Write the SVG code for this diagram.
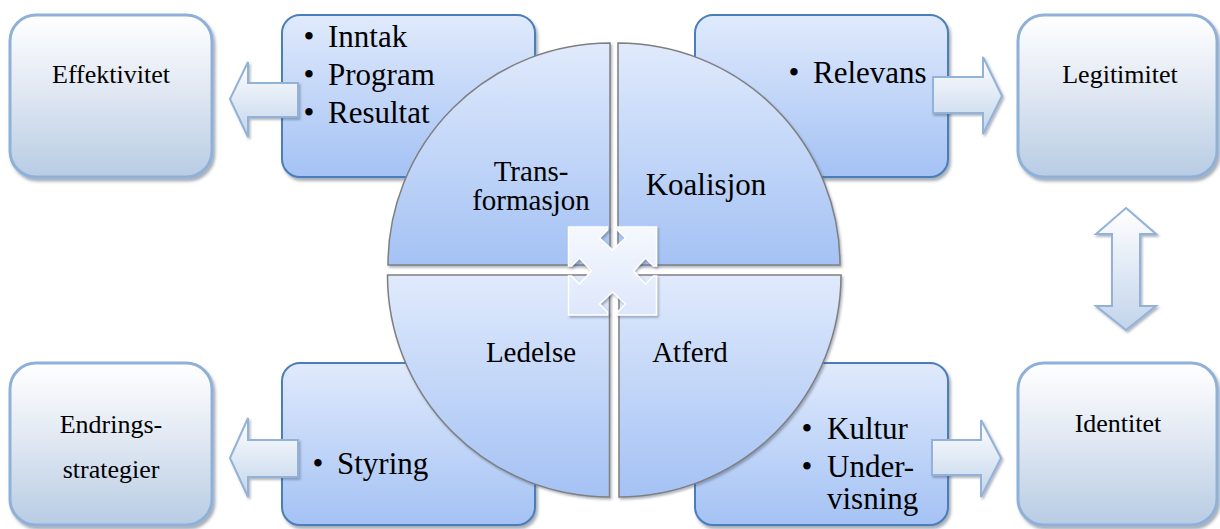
<svg xmlns="http://www.w3.org/2000/svg" width="1220" height="529" viewBox="0 0 1220 529">
<defs>
<linearGradient id="gOuter" x1="0" y1="0" x2="0" y2="1">
<stop offset="0" stop-color="#ffffff"/><stop offset="0.45" stop-color="#e2e9f3"/><stop offset="1" stop-color="#b8cce4"/>
</linearGradient>
<linearGradient id="gInner" x1="0" y1="0" x2="0" y2="1">
<stop offset="0" stop-color="#e0eafc"/><stop offset="1" stop-color="#a4c2f4"/>
</linearGradient>
<linearGradient id="gArrow" x1="0" y1="0" x2="0" y2="1">
<stop offset="0" stop-color="#ffffff"/><stop offset="1" stop-color="#c2d4eb"/>
</linearGradient>
<linearGradient id="gCenter" x1="0" y1="0" x2="0" y2="1">
<stop offset="0" stop-color="#f5f8fe"/><stop offset="1" stop-color="#dde7fb"/>
</linearGradient>
<filter id="sh" x="-10%" y="-10%" width="130%" height="130%">
<feDropShadow dx="2" dy="3" stdDeviation="1.5" flood-color="#3d4c63" flood-opacity="0.45"/>
</filter>
<filter id="shs" x="-10%" y="-10%" width="130%" height="130%">
<feDropShadow dx="1.5" dy="2" stdDeviation="1.2" flood-color="#3d4c63" flood-opacity="0.4"/>
</filter>
</defs>
<style>
.outer{fill:url(#gOuter);stroke:#8fb1d9;stroke-width:3;filter:url(#sh)}
.inner{fill:url(#gInner);stroke:#4a7ebb;stroke-width:2;filter:url(#sh)}
.quad{fill:url(#gInner);stroke:#7f7f7f;stroke-width:1.5;filter:url(#shs)}
.arrow{fill:url(#gArrow);stroke:#92b2d8;stroke-width:2;filter:url(#shs)}
.center{fill:url(#gCenter);stroke:#ffffff;stroke-width:1.5;filter:url(#shs)}
text{font-family:"Liberation Serif","Times New Roman",Times,Tinos,"Nimbus Roman","Nimbus Roman No9 L","Noto Serif","DejaVu Serif",FreeSerif,serif}
.t26{font-size:26px}
.t29{font-size:29px}
.t31{font-size:31px}
.mid{text-anchor:middle}
</style>
<g id="effektivitet">
<rect class="outer" x="10" y="15" width="202" height="162" rx="26"/>
<text class="t26 mid" x="111" y="83">Effektivitet</text>
</g>
<g id="legitimitet">
<rect class="outer" x="1018" y="15" width="199" height="162" rx="26"/>
<text class="t26 mid" x="1120" y="83">Legitimitet</text>
</g>
<g id="endringsstrategier">
<rect class="outer" x="10" y="363" width="202" height="162" rx="26"/>
<text class="t26 mid" x="111" y="433">Endrings-</text>
<text class="t26 mid" x="111" y="478">strategier</text>
</g>
<g id="identitet">
<rect class="outer" x="1018" y="363" width="199" height="162" rx="26"/>
<text class="t26 mid" x="1118" y="432">Identitet</text>
</g>

<g id="box-tl">
<rect class="inner" x="282" y="15" width="253" height="162" rx="18"/>
<text class="t31 mid" x="309" y="47">•</text><text class="t31" x="328" y="47">Inntak</text>
<text class="t31 mid" x="309" y="85">•</text><text class="t31" x="328" y="85">Program</text>
<text class="t31 mid" x="309" y="123">•</text><text class="t31" x="328" y="123">Resultat</text>
</g>
<g id="box-tr">
<rect class="inner" x="695" y="15" width="253" height="162" rx="18"/>
<text class="t31 mid" x="794" y="83">•</text><text class="t31" x="813" y="83">Relevans</text>
</g>
<g id="box-bl">
<rect class="inner" x="282" y="363" width="253" height="162" rx="18"/>
<text class="t31 mid" x="318" y="474">•</text><text class="t31" x="337" y="474">Styring</text>
</g>
<g id="box-br">
<rect class="inner" x="695" y="363" width="253" height="162" rx="18"/>
<text class="t31 mid" x="807" y="439">•</text><text class="t31" x="827" y="439">Kultur</text>
<text class="t31 mid" x="807" y="477">•</text><text class="t31" x="827" y="477">Under-</text>
<text class="t31" x="827" y="509">visning</text>
</g>

<g id="connectors">
<path class="arrow" d="M230,99 L248,62 L248,83 L298,83 L298,117 L248,117 L248,137 Z"/>
<path class="arrow" d="M230,458 L248,418 L248,440 L298,440 L298,477 L248,477 L248,497 Z"/>
<path class="arrow" d="M1002,96 L983,57 L983,77 L933,77 L933,113 L983,113 L983,134 Z"/>
<path class="arrow" d="M1001,458 L981,420 L981,440 L932,440 L932,475 L981,475 L981,497 Z"/>
<path class="arrow" d="M1126,208 L1156,234 L1140,234 L1140,306 L1156,306 L1126,330 L1096,306 L1112,306 L1112,234 L1096,234 Z"/>
</g>

<g id="quad-transformasjon">
<path class="quad" d="M388,265 A222,222 0 0 1 610,43 L610,265 Z"/>
<text class="t29 mid" x="531" y="181">Trans-</text>
<text class="t29 mid" x="531" y="210">formasjon</text>
</g>
<g id="quad-koalisjon">
<path class="quad" d="M618,43 A222,222 0 0 1 840,265 L618,265 Z"/>
<text class="t31 mid" x="706" y="195">Koalisjon</text>
</g>
<g id="quad-ledelse">
<path class="quad" d="M609.5,275 L387.5,275 A222,222 0 0 0 609.5,497 Z"/>
<text class="t29 mid" x="531" y="362">Ledelse</text>
</g>
<g id="quad-atferd">
<path class="quad" d="M619,275 L841,275 A222,222 0 0 1 619,497 Z"/>
<text class="t29 mid" x="690" y="362">Atferd</text>
</g>

<g id="center" transform="translate(612.5,271)">
<path class="center" d="M-44,-44 L-5,-44 L-5,-41 L-13,-33 L0,-21 L13,-33 L5,-41 L5,-44 L44,-44 L44,-5 L41,-5 L33,-13 L21,0 L33,13 L41,5 L44,5 L44,44 L5,44 L5,41 L13,33 L0,21 L-13,33 L-5,41 L-5,44 L-44,44 L-44,5 L-41,5 L-33,13 L-21,0 L-33,-13 L-41,-5 L-44,-5 Z"/>
</g>
</svg>
